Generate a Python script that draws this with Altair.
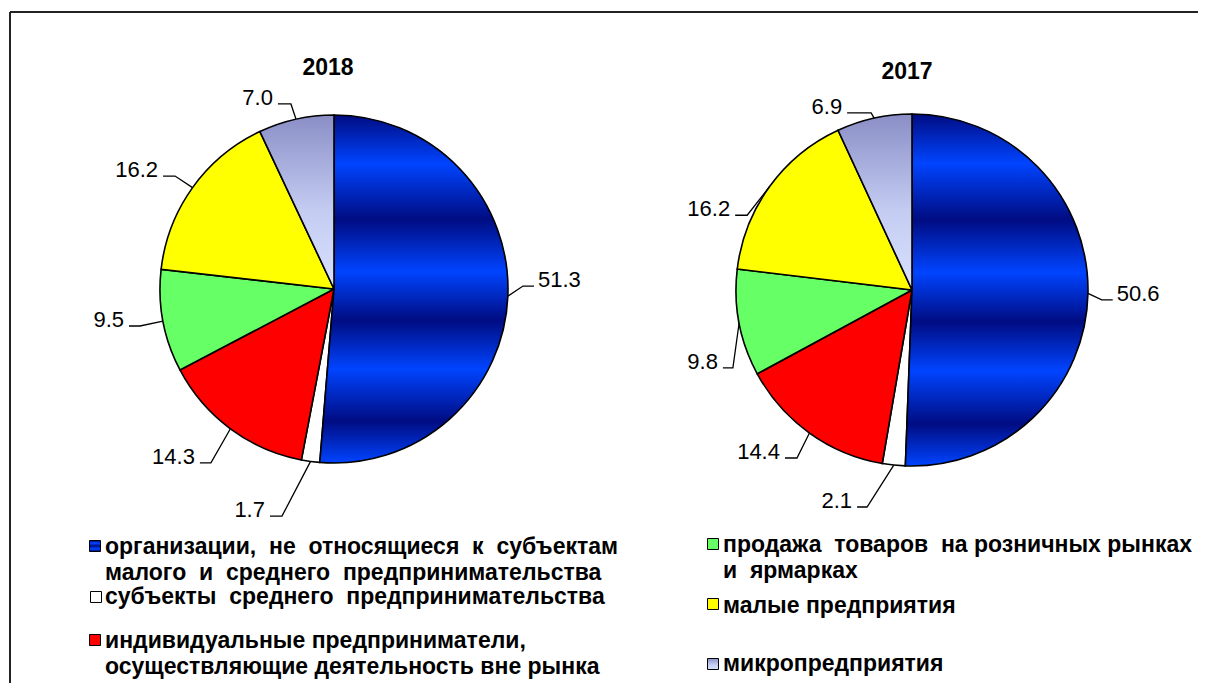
import math
import altair as alt
import pandas as pd

# ---------------- data ----------------
keys = ["org", "mid", "ind", "ret", "small", "micro"]
years = ["2018", "2017"]
values_2018 = [51.3, 1.7, 14.3, 9.5, 16.2, 7.0]
values_2017 = [50.6, 2.1, 14.4, 9.8, 16.2, 6.9]
legend_lines = [
    ["организации, не относящиеся к субъектам", "малого и среднего предпринимательства"],
    ["субъекты среднего предпринимательства"],
    ["индивидуальные предприниматели,", "осуществляющие деятельность вне рынка"],
    ["продажа товаров на розничных рынках", "и ярмарках"],
    ["малые предприятия"],
    ["микропредприятия"],
]

# ---------------- styles / layout ----------------
# number of word gaps (from the left) drawn wider, per legend line
wide_gap = [[4, 3], [2], [0, 0], [2, 1], [0], [0]]
slice_fill = {"org": "#0033cc", "mid": "#ffffff", "ind": "#ff0000",
              "ret": "#66ff66", "small": "#ffff00", "micro": "#b0b8e8"}
DARK, BRIGHT = "#000c82", "#0044ff"
blue_grad = {"gradient": "linear", "x1": 0, "y1": 0, "x2": 0, "y2": 1,
             "stops": [{"offset": o, "color": c} for o, c in
                       [(0, DARK), (0.14, BRIGHT), (0.30, DARK), (0.45, BRIGHT),
                        (0.59, DARK), (0.73, BRIGHT), (0.88, DARK), (1.0, BRIGHT)]]}
micro_grad = {"gradient": "linear", "x1": 0, "y1": 0, "x2": 0, "y2": 1,
              "stops": [{"offset": 0, "color": "#8a8ec6"},
                        {"offset": 0.55, "color": "#c4ccf2"},
                        {"offset": 1, "color": "#d9e1ff"}]}
legend_grad_blue = {"gradient": "linear", "x1": 0, "y1": 0, "x2": 0, "y2": 1,
                    "stops": [{"offset": o, "color": c} for o, c in
                              [(0, DARK), (0.25, BRIGHT), (0.5, DARK), (0.75, BRIGHT), (1, DARK)]]}

W, H = 1190, 675
X0, Y0 = 8, 8
pie_cx = {"2018": 334, "2017": 912}
pie_cy = {"2018": 289, "2017": 290}
pie_r = {"2018": 174, "2017": 176}
title_pos = {"2018": (328, 68), "2017": (907, 72)}
elbow = {"2018": [(89.1, 189), (192.9, 233), (215.3, 213), (259.2, 197.5), (305.4, 195), (346.9, 190)],
         "2017": [(93.0, 190), (191.7, 221.6), (214.4, 203.6), (246.5, 195.3), (294.4, 181), (347.0, 181.7)]}
tick = {"2018": [11, 12, 11, 11, 12, 13], "2017": [11, 10, 12, 10, 12, 24]}
legend_sq = [(95, 546), (96, 597), (95, 640), (713, 544), (713, 604), (713, 664)]
legend_tx = [(105, 547), (105, 597), (105, 641), (723, 545), (723, 606), (723, 664)]
LINE_H = 26
NUM_FONT = 22
LEG_FONT = 23
TITLE_FONT = 23
FONT = "Liberation Sans"

# ---------------- build tables ----------------
arc_rows, lead_rows, lab_rows, title_rows = [], [], [], []
for yr, vals in zip(years, [values_2018, values_2017]):
    cx, cy, R = pie_cx[yr], pie_cy[yr], pie_r[yr]
    title_rows.append({"x": title_pos[yr][0], "y": title_pos[yr][1], "t": yr})
    cum = 0.0
    total = sum(vals)
    for i, (k, v) in enumerate(zip(keys, vals)):
        t0 = cum / total * 2 * math.pi
        t1 = (cum + v) / total * 2 * math.pi
        cum += v
        arc_rows.append({"yr": yr, "key": k, "cx": cx, "cy": cy, "t0": t0, "t1": t1,
                         "r": R, "fill": slice_fill[k]})
        tm = (t0 + t1) / 2
        ex, ey = cx + R * math.sin(tm), cy - R * math.cos(tm)
        ea, er = elbow[yr][i]
        ea = math.radians(ea)
        bx, by = cx + er * math.sin(ea), cy - er * math.cos(ea)
        right = bx > cx
        tx = bx + tick[yr][i] if right else bx - tick[yr][i]
        lid = f"{yr}-{k}"
        for j, (px, py) in enumerate([(ex, ey), (bx, by), (tx, by)]):
            lead_rows.append({"lid": lid, "o": j, "x": px, "y": py})
        lab_rows.append({"x": tx + 4 if right else tx - 5, "y": by + 1,
                         "t": f"{v:.1f}", "side": "r" if right else "l"})

leg_sq_rows, leg_tx_rows = [], []
for i, k in enumerate(keys):
    leg_sq_rows.append({"key": k, "x": legend_sq[i][0], "y": legend_sq[i][1], "fill": slice_fill[k]})
    for j, line in enumerate(legend_lines[i]):
        shown = line.replace(" ", "\u00a0 ", wide_gap[i][j])
        leg_tx_rows.append({"x": legend_tx[i][0], "y": legend_tx[i][1] + j * LINE_H, "t": shown})

arcs = pd.DataFrame(arc_rows)
leads = pd.DataFrame(lead_rows)
labs = pd.DataFrame(lab_rows)
titles = pd.DataFrame(title_rows)
legsq = pd.DataFrame(leg_sq_rows)
legtx = pd.DataFrame(leg_tx_rows)

xs = alt.Scale(domain=[X0, X0 + W], nice=False, zero=False)
ys = alt.Scale(domain=[Y0, Y0 + H], nice=False, zero=False, reverse=True)


def X(f):
    return alt.X(f"{f}:Q", scale=xs, axis=None)


def Y(f):
    return alt.Y(f"{f}:Q", scale=ys, axis=None)


arc_enc = dict(x=X("cx"), y=Y("cy"),
               theta=alt.Theta("t0:Q", scale=None, stack=None),
               theta2=alt.Theta2("t1"),
               radius=alt.Radius("r:Q", scale=None))

arc_plain = alt.Chart(arcs).transform_filter(
    "datum.key != 'org' && datum.key != 'micro'"
).mark_arc(stroke="black", strokeWidth=1.6).encode(
    fill=alt.Fill("fill:N", scale=None), **arc_enc)
arc_org = alt.Chart(arcs).transform_filter("datum.key == 'org'").mark_arc(
    stroke="black", strokeWidth=1.6, fill=blue_grad).encode(**arc_enc)
arc_micro = alt.Chart(arcs).transform_filter("datum.key == 'micro'").mark_arc(
    stroke="black", strokeWidth=1.6, fill=micro_grad).encode(**arc_enc)

leader = alt.Chart(leads).mark_line(color="black", strokeWidth=1.3).encode(
    x=X("x"), y=Y("y"), detail="lid:N", order="o:Q")

lab_r = alt.Chart(labs).transform_filter("datum.side == 'r'").mark_text(
    align="left", baseline="alphabetic", font=FONT, fontSize=NUM_FONT, color="black"
).encode(x=X("x"), y=Y("y"), text="t:N")
lab_l = alt.Chart(labs).transform_filter("datum.side == 'l'").mark_text(
    align="right", baseline="alphabetic", font=FONT, fontSize=NUM_FONT, color="black"
).encode(x=X("x"), y=Y("y"), text="t:N")

title = alt.Chart(titles).mark_text(
    align="center", baseline="middle", font=FONT, fontSize=TITLE_FONT, fontWeight="bold", color="black"
).encode(x=X("x"), y=Y("y"), text="t:N")

sq_plain = alt.Chart(legsq).transform_filter(
    "datum.key != 'org' && datum.key != 'micro'"
).mark_square(size=121, stroke="black", strokeWidth=1, opacity=1).encode(
    x=X("x"), y=Y("y"), fill=alt.Fill("fill:N", scale=None))
sq_org = alt.Chart(legsq).transform_filter("datum.key == 'org'").mark_square(
    size=121, stroke="black", strokeWidth=1, opacity=1, fill=legend_grad_blue).encode(x=X("x"), y=Y("y"))
sq_micro = alt.Chart(legsq).transform_filter("datum.key == 'micro'").mark_square(
    size=121, stroke="black", strokeWidth=1, opacity=1, fill=micro_grad).encode(x=X("x"), y=Y("y"))

leg_text = alt.Chart(legtx).mark_text(
    align="left", baseline="middle", font=FONT, fontSize=LEG_FONT, fontWeight="bold", color="black"
).encode(x=X("x"), y=Y("y"), text="t:N")

frame_left = alt.Chart(titles).mark_rule(color="#222222", strokeWidth=2).encode(
    x=alt.value(2), y=alt.value(4), y2=alt.value(H))
frame_top = alt.Chart(titles).mark_rule(color="#222222", strokeWidth=2).encode(
    x=alt.value(2), x2=alt.value(W), y=alt.value(4))

chart = alt.layer(
    frame_left, frame_top, arc_plain, arc_org, arc_micro, leader, lab_r, lab_l, title,
    sq_plain, sq_org, sq_micro, leg_text
).properties(
    width=W, height=H, padding=0, autosize=alt.AutoSizeParams(type="none"),
    background="white"
).configure_view(stroke=None)

chart.save("out.html", embed_options={"renderer": "svg", "actions": False})
